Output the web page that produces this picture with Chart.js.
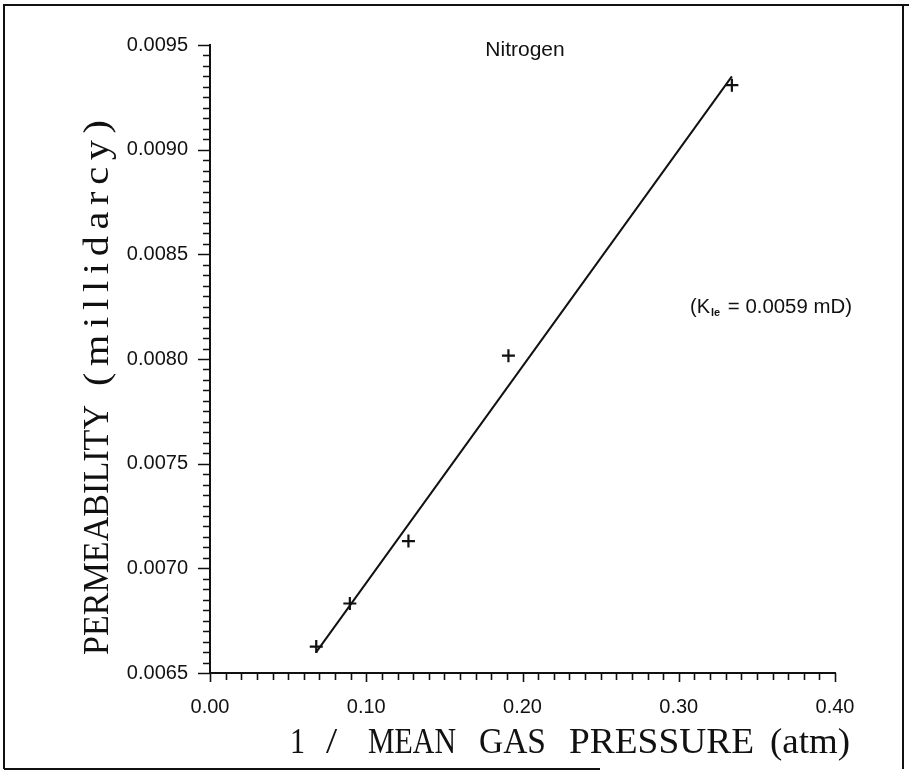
<!DOCTYPE html>
<html>
<head>
<meta charset="utf-8">
<script src="https://cdn.jsdelivr.net/npm/chart.js@4.4.0/dist/chart.umd.min.js"></script>
<style>
  html, body { margin: 0; padding: 0; background: #fff; }
  #wrap { width: 909px; height: 771px; position: relative; }
</style>
</head>
<body>
<div id="wrap"><canvas id="chart" width="909" height="771"></canvas></div>
<script>
// Measured permeability vs. reciprocal mean gas pressure (nitrogen)
const inversePressure = [0.068, 0.0895, 0.127, 0.191, 0.334];
const permeability    = [0.006626, 0.006832, 0.00713, 0.008016, 0.009308];

// Klinkenberg straight-line fit, drawn between its end points
const fitInversePressure = [0.068, 0.334];
const fitPermeability    = [0.00660, 0.00935];
const klinkenbergPerm = '0.0059';

// Axis ticks
const xTickValues = [0.0, 0.1, 0.2, 0.3, 0.4];
const xTickLabels = ['0.00', '0.10', '0.20', '0.30', '0.40'];
const yTickValues = [0.0065, 0.0070, 0.0075, 0.0080, 0.0085, 0.0090, 0.0095];
const yTickLabels = ['0.0065', '0.0070', '0.0075', '0.0080', '0.0085', '0.0090', '0.0095'];

const X_MINOR_DIVS = 40;   // 0.01 per minor tick
const Y_MINOR_DIVS = 60;   // 0.00005 per minor tick

const INK = '#111';
const SANS = "'Liberation Sans', Arial, sans-serif";
const SERIF = "'Liberation Serif', 'Times New Roman', serif";

function labelFor(values, labels, v) {
  for (let i = 0; i < values.length; i++) {
    if (Math.abs(values[i] - v) < 1e-9) return labels[i];
  }
  return '';
}

// draw text fitted to a width: mild horizontal stretch, then letter spacing
function fitText(ctx, text, x, y, width) {
  ctx.letterSpacing = '0px';
  const w0 = ctx.measureText(text).width;
  const s = Math.min(1.15, Math.max(0.85, width / w0));
  const gap = text.length > 1 ? (width / s - w0) / (text.length - 1) : 0;
  ctx.save();
  ctx.translate(x, y);
  ctx.scale(s, 1);
  ctx.letterSpacing = gap + 'px';
  ctx.textAlign = 'left';
  ctx.fillText(text, 0, 0);
  ctx.restore();
  ctx.letterSpacing = '0px';
}

const decorations = {
  id: 'decorations',
  afterDraw(chart) {
    const ctx = chart.ctx;
    const xs = chart.scales.x, ys = chart.scales.y;
    const area = chart.chartArea;
    ctx.save();
    ctx.strokeStyle = INK;
    ctx.fillStyle = INK;

    // outer frame
    ctx.lineWidth = 2;
    ctx.beginPath();
    ctx.moveTo(4, 769); ctx.lineTo(4, 5); ctx.lineTo(909, 5);
    ctx.moveTo(903, 5); ctx.lineTo(903, 769);
    ctx.moveTo(4, 769); ctx.lineTo(600, 769);
    ctx.stroke();

    // tick marks
    ctx.lineWidth = 1.6;
    ctx.beginPath();
    for (let i = 0; i <= Y_MINOR_DIVS; i++) {
      const v = ys.min + (ys.max - ys.min) * i / Y_MINOR_DIVS;
      const py = Math.round(ys.getPixelForValue(v)) + 0.5;
      const len = (i % 10 === 0) ? 12 : 7;
      ctx.moveTo(area.left - len, py); ctx.lineTo(area.left, py);
    }
    for (let i = 0; i <= X_MINOR_DIVS; i++) {
      const v = xs.min + (xs.max - xs.min) * i / X_MINOR_DIVS;
      const px = Math.round(xs.getPixelForValue(v)) + 0.5;
      const len = (i % 10 === 0) ? 9 : 7;
      ctx.moveTo(px, area.bottom); ctx.lineTo(px, area.bottom + len);
    }
    ctx.stroke();

    // chart title
    ctx.font = '21px ' + SANS;
    ctx.textAlign = 'center';
    ctx.textBaseline = 'alphabetic';
    ctx.fillText('Nitrogen', 525, 56);

    // Klinkenberg permeability note
    let x = 690;
    const base = 313;
    ctx.textAlign = 'left';
    ctx.font = '20px ' + SANS;
    ctx.fillText('(K', x, base);
    x += ctx.measureText('(K').width;
    ctx.font = 'bold 11px ' + SANS;
    ctx.fillText('le', x + 1, base + 3);
    x += ctx.measureText('le').width + 3;
    ctx.font = '20px ' + SANS;
    fitText(ctx, ' = ' + klinkenbergPerm + ' mD)', x, base, 852 - x);

    // x axis title, word by word
    ctx.font = '35px ' + SERIF;
    ctx.textBaseline = 'alphabetic';
    const xWords = [['1', 290, 305], ['/', 326, 346], ['MEAN', 368, 456], ['GAS', 479, 546],
                    ['PRESSURE', 569, 754], ['(atm)', 770, 850]];
    xWords.forEach(([t, a, b]) => fitText(ctx, t, a, 753, b - a));

    // y axis title, rotated
    ctx.translate(108, 0);
    ctx.rotate(-Math.PI / 2);
    fitText(ctx, 'PERMEABILITY', -655, 0, 250);
    fitText(ctx, '(millidarcy)', -386, 0, 266);
    ctx.restore();
  }
};

new Chart(document.getElementById('chart'), {
  type: 'scatter',
  data: {
    datasets: [
      {
        label: 'Measured',
        data: inversePressure.map((v, i) => ({ x: v, y: permeability[i] })),
        pointStyle: 'cross',
        pointRadius: 6.5,
        pointBorderWidth: 2.2,
        borderColor: INK,
        backgroundColor: INK,
        showLine: false
      },
      {
        label: 'Fit',
        data: fitInversePressure.map((v, i) => ({ x: v, y: fitPermeability[i] })),
        showLine: true,
        pointRadius: 0,
        borderColor: INK,
        borderWidth: 2,
        fill: false
      }
    ]
  },
  options: {
    responsive: false,
    animation: false,
    devicePixelRatio: 1,
    layout: { padding: { left: 0, top: 45, right: 74, bottom: 0 } },
    plugins: { legend: { display: false }, tooltip: { enabled: false }, title: { display: false } },
    scales: {
      x: {
        type: 'linear',
        min: 0, max: 0.4,
        afterBuildTicks: s => { s.ticks = xTickValues.map(v => ({ value: v })); },
        afterFit: s => { s.height = 98; },
        grid: { display: false, drawTicks: false },
        border: { display: true, color: INK, width: 2 },
        ticks: {
          autoSkip: false, maxRotation: 0, padding: 22,
          color: INK, font: { family: SANS, size: 20 },
          callback: v => labelFor(xTickValues, xTickLabels, v)
        }
      },
      y: {
        type: 'linear',
        min: 0.0065, max: 0.0095,
        afterBuildTicks: s => { s.ticks = yTickValues.map(v => ({ value: v })); },
        afterFit: s => { s.width = 210; },
        grid: { display: false, drawTicks: false },
        border: { display: true, color: INK, width: 2 },
        ticks: {
          autoSkip: false, padding: 22,
          color: INK, font: { family: SANS, size: 20 },
          callback: v => labelFor(yTickValues, yTickLabels, v)
        }
      }
    }
  },
  plugins: [decorations]
});
</script>
</body>
</html>
